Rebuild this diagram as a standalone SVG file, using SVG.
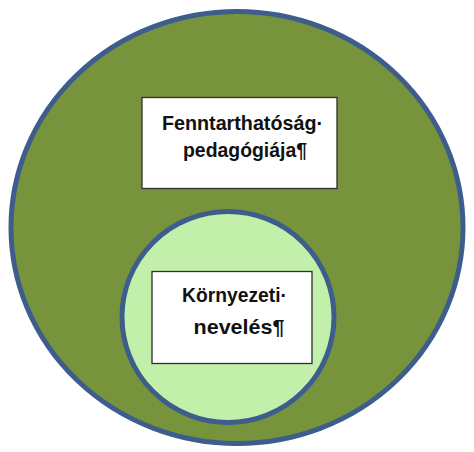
<svg xmlns="http://www.w3.org/2000/svg" width="474" height="452" viewBox="0 0 474 452">
<style>
.ring{stroke:#3D5E8C;stroke-width:5}
.box{fill:#FFFFFF;stroke:#2E2E2E;stroke-width:1.3}
.lbl{font-family:"Liberation Sans",Arial,sans-serif;font-weight:bold;font-size:21px;fill:#111111}
</style>
<rect width="474" height="452" fill="#FFFFFF"/>
<g id="outer">
<ellipse class="ring" cx="237" cy="227.5" rx="226" ry="216" fill="#77933C"/>
</g>
<g id="inner">
<ellipse class="ring" cx="228" cy="317" rx="106" ry="105.5" fill="#C2F0AA"/>
</g>
<g id="node-fenntarthatosag">
<rect class="box" x="142" y="97.5" width="195" height="91"/>
<text class="lbl" x="162" y="130" textLength="161" lengthAdjust="spacingAndGlyphs">Fenntarthatóság·</text>
<text class="lbl" x="183" y="157" textLength="124" lengthAdjust="spacingAndGlyphs">pedagógiája¶</text>
</g>
<g id="node-kornyezeti">
<rect class="box" x="152" y="271.5" width="160" height="92"/>
<text class="lbl" x="182" y="302" textLength="105" lengthAdjust="spacingAndGlyphs">Környezeti·</text>
<text class="lbl" x="193.5" y="334" textLength="91" lengthAdjust="spacingAndGlyphs">nevelés¶</text>
</g>
<g id="connectors"/>
</svg>
